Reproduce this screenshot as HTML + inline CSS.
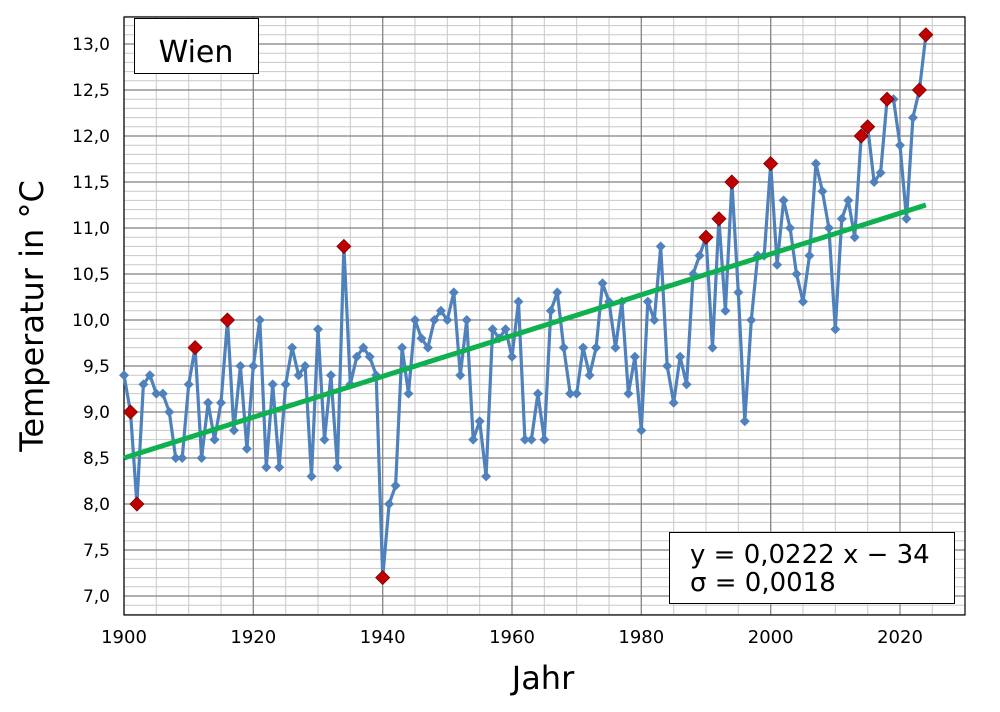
<!DOCTYPE html>
<html><head><meta charset="utf-8"><style>
html,body{margin:0;padding:0;background:#fff}
svg text{font-family:"DejaVu Sans","Liberation Sans",sans-serif}
</style></head><body>
<svg id="s" width="1000" height="707" xmlns="http://www.w3.org/2000/svg"></svg>
<script>
const s=document.getElementById('s');
const X=y=>124+(y-1900)*776/120, Y=v=>44+(13-v)*92;
let h='';
for(let v=6.8;v<=13.301;v+=0.1){const yy=Y(v).toFixed(1);h+=`<line x1="124" x2="965" y1="${yy}" y2="${yy}" stroke="#c8c8c8" stroke-width="1"/>`;}
for(let y=1905;y<2030;y+=5){const xx=X(y).toFixed(1);h+=`<line x1="${xx}" x2="${xx}" y1="17" y2="615" stroke="#c8c8c8" stroke-width="1"/>`;}
for(let v=7;v<=13.01;v+=0.5){const yy=Y(v).toFixed(1);h+=`<line x1="124" x2="965" y1="${yy}" y2="${yy}" stroke="#808080" stroke-width="1.2"/>`;
h+=`<text x="110" y="${(+yy+6).toFixed(1)}" font-size="17" text-anchor="end">${v.toFixed(1).replace('.',',')}</text>`;}
for(let y=1900;y<=2020;y+=20){const xx=X(y).toFixed(1);h+=`<line x1="${xx}" x2="${xx}" y1="17" y2="615" stroke="#808080" stroke-width="1.2"/>`;
h+=`<text x="${xx}" y="643" font-size="18" text-anchor="middle">${y}</text>`;}
h+=`<rect x="124" y="17" width="841" height="598" fill="none" stroke="#000" stroke-width="1.2"/>`;
const d=[9.4,9.0,8.0,9.3,9.4,9.2,9.2,9.0,8.5,8.5,9.3,9.7,8.5,9.1,8.7,9.1,10.0,8.8,9.5,8.6,9.5,10.0,8.4,9.3,8.4,9.3,9.7,9.4,9.5,8.3,9.9,8.7,9.4,8.4,10.8,9.3,9.6,9.7,9.6,9.4,7.2,8.0,8.2,9.7,9.2,10.0,9.8,9.7,10.0,10.1,10.0,10.3,9.4,10.0,8.7,8.9,8.3,9.9,9.8,9.9,9.6,10.2,8.7,8.7,9.2,8.7,10.1,10.3,9.7,9.2,9.2,9.7,9.4,9.7,10.4,10.2,9.7,10.2,9.2,9.6,8.8,10.2,10.0,10.8,9.5,9.1,9.6,9.3,10.5,10.7,10.9,9.7,11.1,10.1,11.5,10.3,8.9,10.0,10.7,10.7,11.7,10.6,11.3,11.0,10.5,10.2,10.7,11.7,11.4,11.0,9.9,11.1,11.3,10.9,12.0,12.1,11.5,11.6,12.4,12.4,11.9,11.1,12.2,12.5,13.1];
const red=[1901,1902,1911,1916,1934,1940,1990,1992,1994,2000,2014,2015,2018,2023,2024];
h+=`<polyline fill="none" stroke="#4f81bd" stroke-width="3.2" stroke-linejoin="round" points="${d.map((v,i)=>X(1900+i).toFixed(1)+','+Y(v).toFixed(1)).join(' ')}"/>`;
d.forEach((v,i)=>{const x=X(1900+i),y=Y(v);if(!red.includes(1900+i))h+=`<path d="M${x} ${y-5}L${x+5} ${y}L${x} ${y+5}L${x-5} ${y}Z" fill="#4f81bd"/>`;});
h+=`<line x1="${X(1900)}" y1="${Y(8.5)}" x2="${X(2024)}" y2="${Y(11.25)}" stroke="#0fb050" stroke-width="5"/>`;
d.forEach((v,i)=>{const x=X(1900+i),y=Y(v);if(red.includes(1900+i))h+=`<path d="M${x} ${y-7}L${x+7} ${y}L${x} ${y+7}L${x-7} ${y}Z" fill="#c00000" stroke="#7a0000" stroke-width="0.8"/>`;});
h+=`<rect x="134.5" y="18.5" width="124" height="55" fill="#fff" stroke="#000" stroke-width="1"/>`;
h+=`<text x="196" y="62" font-size="30" text-anchor="middle">Wien</text>`;
h+=`<rect x="669.5" y="532.5" width="285" height="71" fill="#fff" stroke="#000" stroke-width="1"/>`;
h+=`<text x="690" y="563" font-size="26">y = 0,0222 x − 34</text>`;
h+=`<text x="690" y="591" font-size="26">σ = 0,0018</text>`;
h+=`<text x="543" y="689" font-size="32" text-anchor="middle">Jahr</text>`;
h+=`<text transform="translate(43,316) rotate(-90)" font-size="32" text-anchor="middle">Temperatur in °C</text>`;
s.innerHTML=h;
</script>
</body></html>
